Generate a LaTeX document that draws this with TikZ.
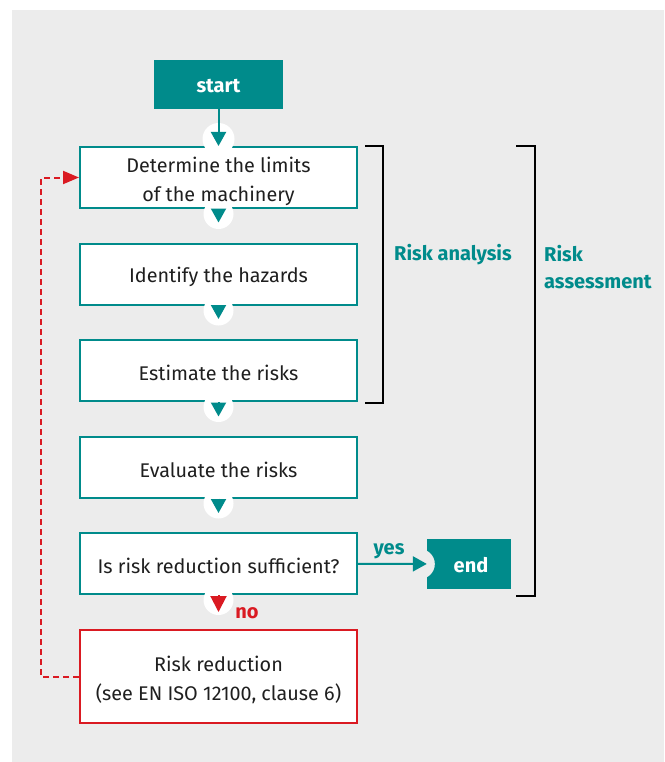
\documentclass[tikz,border=0pt]{standalone}
\usepackage{fontspec}
\setmainfont{Fira Sans}
\usetikzlibrary{arrows.meta,calc}
\definecolor{tealc}{RGB}{0,139,139}
\definecolor{redc}{RGB}{218,26,34}
\definecolor{bgc}{RGB}{236,236,236}
\newcommand{\lowr}[2]{\raisebox{-#1}[\height][\depth]{#2}}
\begin{document}
\begin{tikzpicture}[x=1pt,y=-1pt,
  stepbox/.style={draw=tealc, fill=white, line width=2pt, minimum width=277pt, minimum height=61pt, inner sep=0pt, align=center, font=\fontsize{19.8}{29}\selectfont, text=black!88},
  redbox/.style={stepbox, draw=redc, minimum height=93pt},
  termbox/.style={fill=tealc, text=white, inner sep=0pt, font=\fontsize{20}{22}\selectfont\bfseries},
  tarrow/.style={draw=tealc, line width=2pt, -{Triangle[width=15pt,length=14pt]}},
  rarrow/.style={draw=redc, line width=2pt, -{Triangle[width=16pt,length=16pt]}},
  halo/.style={fill=white},
  lbl/.style={text=tealc, font=\fontsize{20}{27}\selectfont\bfseries, inner sep=0pt, align=left},
  brk/.style={draw=black, line width=2pt}
]
\useasboundingbox (0,0) rectangle (664,762);
\fill[bgc] (12,10) rectangle (664,762);

% nodes
\node[termbox, minimum width=129pt, minimum height=49pt] (start) at (218.5,84.5) {\lowr{2pt}{start}};
\node[stepbox] (b1) at (218.5,177.5) {\lowr{3.5pt}{\parbox{270pt}{\centering Determine the limits\\of the machinery}}};
\node[stepbox] (b2) at (218.5,274) {\lowr{2.5pt}{Identify the hazards}};
\node[stepbox] (b3) at (218.5,370.5) {\lowr{2.5pt}{Estimate the risks}};
\node[stepbox] (b4) at (218.5,467) {\lowr{2.5pt}{Evaluate the risks}};
\node[stepbox] (b5) at (218.5,563.5) {\lowr{2.5pt}{Is risk reduction sufficient?}};
\node[redbox] (rr) at (218.5,676.5) {\lowr{3pt}{\parbox{270pt}{\centering Risk reduction\\(see EN ISO 12100, clause 6)}}};
\node[termbox, minimum width=84pt, minimum height=50pt] (end) at (469,564) {\lowr{1pt}{\hspace*{4pt}end}};

% halos (only the part outside each box is needed)
\begin{scope}
  \clip (b1.north) ++(-20,-30) rectangle ++(40,32);
  \fill[halo] (b1.north) ++(0,-7) circle[radius=16pt];
\end{scope}
\foreach \n in {b1,b2,b3,b4,b5}{
  \begin{scope}
    \clip (\n.south) ++(-20,-3) rectangle ++(40,30);
    \fill[halo] (\n.south) ++(0,5) circle[radius=15pt];
  \end{scope}
}
\fill[bgc] (end.west) ++(-7,0) circle[radius=15pt];

% connectors
\draw[tarrow] (start) -- (b1);
\draw[tarrow, shorten >=20pt] (b1) -- (b2);
\draw[tarrow, shorten >=20pt] (b2) -- (b3);
\draw[tarrow, shorten >=19pt] (b3) -- (b4);
\draw[tarrow, shorten >=19pt] (b4) -- (b5);
\draw[rarrow, shorten >=17pt] (b5) -- (rr);
\draw[tarrow] (b5) -- node[lbl, above=4pt, pos=0.45]{yes} (end);
\draw[redc, line width=2pt, dash pattern=on 6pt off 4pt, -{Triangle[width=13pt,length=16pt]}] (rr.west) -- ++(-38,0) |- (b1.west);

\node[text=redc, font=\fontsize{20}{22}\selectfont\bfseries, inner sep=0pt] (no) at (247,613) {no};

% brackets
\draw[brk] (365,146) -- (383,146) -- (383,403) -- (365,403);
\draw[brk] (516,146) -- (535,146) -- (535,596) -- (516,596);
\node[lbl, anchor=west] (ra) at (394,255) {Risk analysis};
\node[lbl, anchor=north west] (rass) at (544,245.5) {Risk\\assessment};
\end{tikzpicture}
\end{document}
